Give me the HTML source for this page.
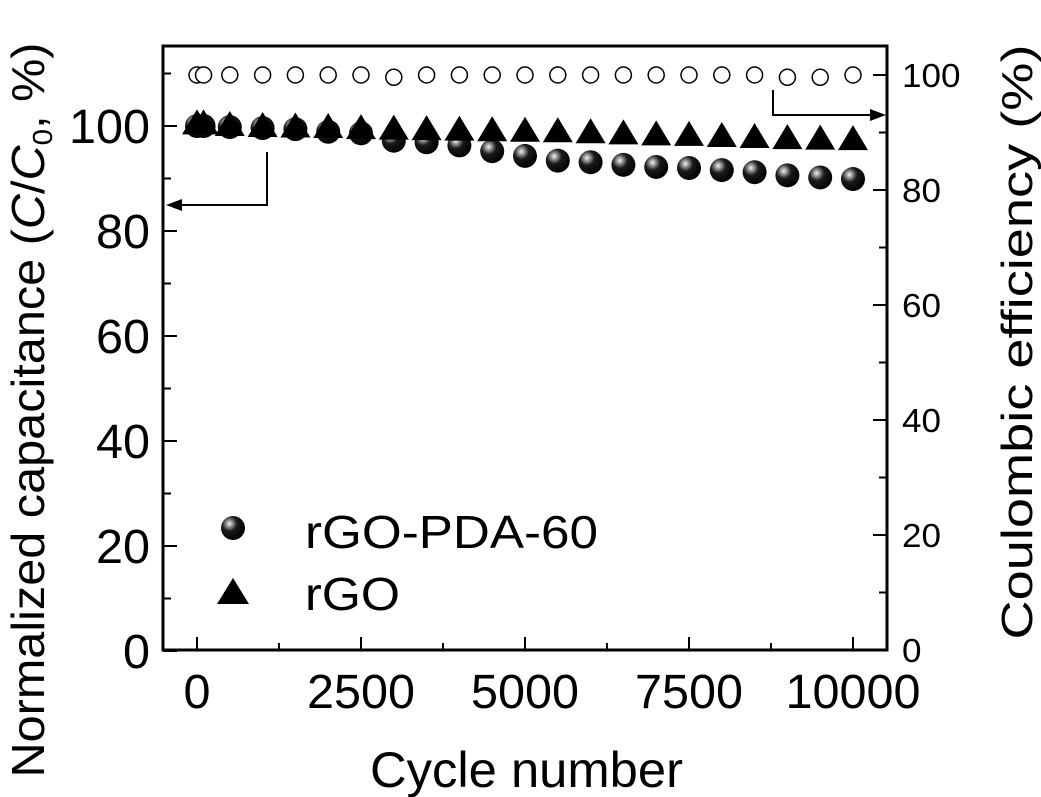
<!DOCTYPE html>
<html><head><meta charset="utf-8"><style>
body{margin:0;background:#fff;}
svg{display:block;font-family:"Liberation Sans",Arial,sans-serif;}
</style></head><body>
<svg id="chart" width="1041" height="797" viewBox="0 0 1041 797" xmlns="http://www.w3.org/2000/svg">
<defs>
<radialGradient id="sph" cx="0.35" cy="0.32" r="0.7">
<stop offset="0" stop-color="#f4f4f4"/><stop offset="0.18" stop-color="#9a9a9a"/><stop offset="0.45" stop-color="#1a1a1a"/><stop offset="1" stop-color="#000"/>
</radialGradient>
</defs>
<g id="marks"></g>
<rect x="163" y="46" width="724" height="604" fill="none" stroke="#000" stroke-width="3"/>
<g id="axes"></g>
<text x="370" y="787" font-size="50" textLength="313" lengthAdjust="spacingAndGlyphs">Cycle number</text>
<text transform="translate(44,410) rotate(-90)" font-size="46" text-anchor="middle" textLength="735" lengthAdjust="spacingAndGlyphs">Normalized capacitance (<tspan font-style="italic">C</tspan>/<tspan font-style="italic">C</tspan><tspan font-size="28" dy="8">0</tspan><tspan dy="-8">,  %)</tspan></text>
<text transform="translate(1032,342) rotate(-90)" font-size="44" text-anchor="middle" textLength="595" lengthAdjust="spacingAndGlyphs">Coulombic efficiency (%)</text>
<g stroke="#000" stroke-width="2" fill="none">
<polyline points="267,152 267,205 180,205"/>
</g>
<polygon points="166,205 182,199 182,211" fill="#000"/>
<g stroke="#000" stroke-width="2" fill="none">
<polyline points="773,90 773,115 872,115"/>
</g>
<polygon points="886,115 870,109 870,121" fill="#000"/>
<g>
<circle cx="233" cy="528" r="12" fill="url(#sph)"/>
<text x="305" y="548" font-size="46" textLength="293" lengthAdjust="spacingAndGlyphs">rGO-PDA-60</text>
<polygon points="233,578 249,604 217,604" fill="#000"/>
<text x="305" y="610" font-size="46" textLength="95" lengthAdjust="spacingAndGlyphs">rGO</text>
</g>
</svg>
<script>
const cycles=[0,100,500,1000,1500,2000,2500,3000,3500,4000,4500,5000,5500,6000,6500,7000,7500,8000,8500,9000,9500,10000];
const pdaCap=[100,100,99.8,99.6,99.4,98.9,98.6,97.2,96.9,96.3,95.2,94.3,93.4,93.1,92.6,92.2,92,91.6,91.2,90.6,90.2,89.9];
const rgoCap=[100.5,100.5,100.2,100,99.9,99.8,99.6,99.5,99.4,99.3,99.2,99.1,99,98.8,98.6,98.4,98.3,98.1,97.9,97.7,97.6,97.5];
const ceVals=[100,100,100,100,100,100,100,99.6,100,100,100,100,100,100,100,100,100,100,100,99.6,99.6,100];
const xTicks=[0,2500,5000,7500,10000];
const leftTicks=[0,20,40,60,80,100];
const rightTicks=[0,20,40,60,80,100];
const NS="http://www.w3.org/2000/svg";
const X=v=>197+v*0.0656;
const YL=v=>651-v*5.25;
const YR=v=>650-v*5.75;
const marks=document.getElementById('marks'),axes=document.getElementById('axes');
function mk(tag,attrs,parent){const e=document.createElementNS(NS,tag);for(const k in attrs)e.setAttribute(k,attrs[k]);parent.appendChild(e);return e;}
cycles.forEach((c,i)=>{
 const e=mk('circle',{cx:X(c),cy:YR(ceVals[i]),r:8,fill:'#fff',stroke:'#000','stroke-width':1.5},marks);
 
 
});
cycles.forEach((c,i)=>{
 const e=mk('circle',{cx:X(c),cy:YL(pdaCap[i]),r:12,fill:'url(#sph)'},marks);
 
 
});
cycles.forEach((c,i)=>{
 const x=X(c),y=YL(rgoCap[i]);
 const e=mk('polygon',{points:`${x},${y-14} ${x+15},${y+11} ${x-15},${y+11}`,fill:'#000'},marks);
 
 
});
for(let v=0;v<=10000;v+=1250){
 const major=v%2500===0;
 const t=mk('line',{x1:X(v),x2:X(v),y1:650,y2:650-(major?13:7),stroke:'#000','stroke-width':2},axes);
 
 
}
xTicks.forEach(v=>{
 const s=String(v);
 const t=mk('text',{x:X(v),y:708,'font-size':48,'text-anchor':'middle',textLength:27*s.length,lengthAdjust:'spacingAndGlyphs'},axes);t.textContent=s;
 
 
});
for(let v=0;v<=110;v+=10){
 const major=v%20===0;
 const t=mk('line',{x1:163,x2:163+(major?14:8),y1:YL(v),y2:YL(v),stroke:'#000','stroke-width':2},axes);
 
 
}
leftTicks.forEach(v=>{
 const s=String(v);
 const t=mk('text',{x:150,y:YL(v)+17,'font-size':48,'text-anchor':'end',textLength:27*s.length,lengthAdjust:'spacingAndGlyphs'},axes);t.textContent=s;
 
 
});
for(let v=0;v<=100;v+=10){
 const major=v%20===0;
 const t=mk('line',{x1:887,x2:887-(major?14:8),y1:YR(v),y2:YR(v),stroke:'#000','stroke-width':2},axes);
 
 
}
rightTicks.forEach(v=>{
 const s=String(v);
 const t=mk('text',{x:902,y:YR(v)+12,'font-size':33,'text-anchor':'start',textLength:19.5*s.length,lengthAdjust:'spacingAndGlyphs'},axes);t.textContent=s;
 
 
});
</script>
</body></html>
